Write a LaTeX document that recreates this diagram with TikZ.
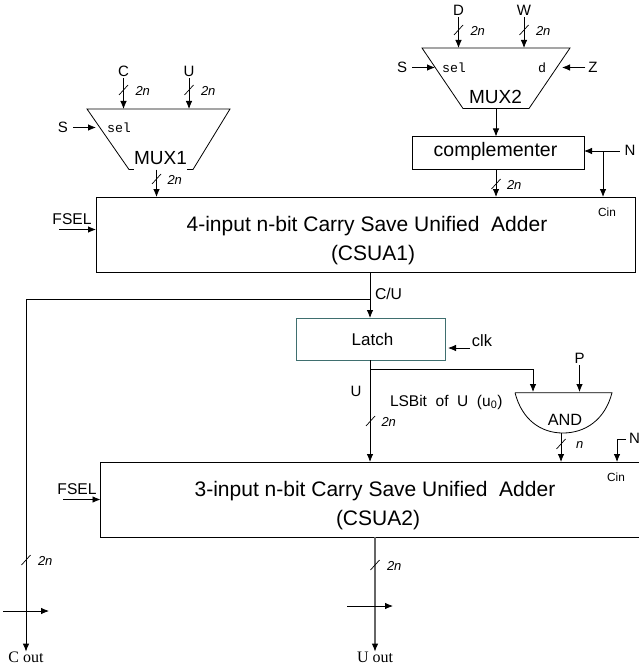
\documentclass[tikz,border=0pt]{standalone}
\usepackage{fontspec}
\setmainfont{Liberation Sans}
\setmonofont{Liberation Mono}
\newfontfamily\serifout{Liberation Serif}
\usetikzlibrary{arrows.meta,positioning,shapes.geometric,calc}
\definecolor{latchline}{HTML}{3F6F6F}
\newcommand{\fsz}[1]{\fontsize{#1}{#1}\selectfont}

\begin{document}
\begin{tikzpicture}[
      x=1pt, y=-1pt,
      every node/.style={font=\fsz{15}, inner sep=0pt, outer sep=0pt},
      arr/.style={-{Latex[length=8pt,width=6.5pt]}, line width=0.8pt},
      muxline/.style={line width=0.8pt, line join=miter},
      blockbox/.style={draw, line width=0.8pt, anchor=north west},
      title/.style={font=\fsz{21}},
      selname/.style={font=\ttfamily\fsz{13.3}},
      bus/.style={font=\itshape\fsz{13}},
      carry/.style={font=\fsz{11.8}}
  ]
    \useasboundingbox (0,0) rectangle (639,666);

    % ---- MUX1 ----
    \coordinate (mux1tl) at (87,109);
    \coordinate (mux1out) at (156.5,169.5);
    \draw[muxline] (mux1tl) -- (230,109) -- (193,169.5) -- (129,169.5) -- cycle;
    \node[fill=white, font=\fsz{19}, minimum width=53pt, minimum height=24pt] (mux1name) at (160.5,158) {MUX1};
    \node[selname] (mux1sel) at (119,128) {sel};
    \node (inC) at (123.5,71) {C};
    \node (inU) at (189,71) {U};
    \node (mux1S) at (63,127) {S};
    \draw[arr] (inC.south) ++(0,2) -- (inC |- mux1tl);
    \draw[arr] (inU.south) ++(0,2) -- (inU |- mux1tl);
    \coordinate (mux1edge) at (96,127.5);
    \draw[arr] (mux1S.east |- mux1edge) ++(5,0) -- (mux1edge);

    % ---- MUX2 ----
    \coordinate (mux2tl) at (422,48);
    \coordinate (mux2out) at (496,108.5);
    \draw[muxline] (mux2tl) -- (570,48) -- (529,108.5) -- (463,108.5) -- cycle;
    \node[font=\fsz{19}] (mux2name) at (495.5,97) {MUX2};
    \node[selname] (mux2sel) at (454,68) {sel};
    \node[selname] (mux2d) at (542,68) {d};
    \node (inD) at (458.5,10) {D};
    \node (inW) at (524,10) {W};
    \node (mux2S) at (402,67) {S};
    \node (inZ) at (593,67) {Z};
    \draw[arr] (inD.south) ++(0,2) -- (inD |- mux2tl);
    \draw[arr] (inW.south) ++(0,2) -- (inW |- mux2tl);
    \coordinate (mux2left) at (435,67.5);
    \coordinate (mux2right) at (562,67.5);
    \draw[arr] (mux2S.east |- mux2left) ++(5,0) -- (mux2left);
    \draw[arr] (inZ.west |- mux2right) ++(-3,0) -- (mux2right);

    % ---- Complementer ----
    \node[blockbox, minimum width=172pt, minimum height=32.5pt] (compl) at (412,136.5) {};
    \node[font=\fsz{19.5}] (complname) at (495.5,151.5) {complementer};
    \draw[arr] (mux2out) -- (mux2out |- compl.north);
    \node (inN) at (630,150) {N};
    \coordinate (ntap) at (603,151);
    \draw[arr] (inN.west |- ntap) ++(-5,0) -- (compl.east |- ntap);

    % ---- CSUA1 ----
    \node[blockbox, minimum width=539pt, minimum height=75pt] (csua1) at (96,197) {};
    \node[title] (csua1a) at (367,226) {4-input n-bit Carry Save Unified\ \ Adder};
    \node[title] (csua1b) at (373,255) {(CSUA1)};
    \node[carry] (cin1) at (607,212) {Cin};
    \node[font=\fsz{15.6}] (fsel1) at (72,219) {FSEL};
    \coordinate (fsel1in) at (59,229.5);
    \draw[arr] (fsel1in) -- (csua1.west |- fsel1in);
    \draw[arr] (mux1out) -- (mux1out |- csua1.north);
    \draw[arr] (mux2out |- compl.south) -- (mux2out |- csua1.north);
    \draw[arr] (ntap) -- (ntap |- csua1.north);

    % ---- Latch ----
    \node[blockbox, draw=latchline, minimum width=149pt, minimum height=42pt] (latch) at (296,318) {};
    \node[font=\fsz{17}] (latchname) at (372.5,339) {Latch};
    \node[font=\fsz{16.4}] (clk) at (482,341) {clk};
    \coordinate (clkin) at (470,348);
    \draw[arr] (clkin) -- ++(-22,0);
    \coordinate (sumtap) at (370,272);
    \coordinate (cuturn) at (370,299.5);
    \node[anchor=west, font=\fsz{15.7}] (culabel) at (375,294) {C/U};
    \draw[arr] (sumtap) -- (sumtap |- latch.north);

    % ---- AND gate ----
    \coordinate (andleft) at (515,392.7);
    \draw[line width=0.8pt] (andleft) -- (612,392.7)
        .. controls (605,420) and (585,433) .. (563,433)
        .. controls (541,433) and (522,420) .. (andleft);
    \node[font=\fsz{16.3}] (andname) at (565,420) {AND};
    \node (inP) at (579.5,358) {P};
    \coordinate (andtap) at (370,369);
    \coordinate (andA) at (533,392);
    \draw[arr] (andtap) -| (andA);
    \draw[arr] (inP.south) ++(0,2) -- (inP |- andA);
    \node[font=\fsz{15.5}, anchor=west] (lsb) at (390,402) {LSBit\ \ of\ \ U\ \ (u\textsubscript{0})};
    \node (ulabel) at (356,391) {U};

    % ---- CSUA2 ----
    \node[blockbox, minimum width=545pt, minimum height=75pt] (csua2) at (100.5,462) {};
    \node[title] (csua2a) at (375,491) {3-input n-bit Carry Save Unified\ \ Adder};
    \node[title] (csua2b) at (378,520) {(CSUA2)};
    \node[carry] (cin2) at (616,477) {Cin};
    \node[font=\fsz{15.6}] (fsel2) at (77,489) {FSEL};
    \coordinate (fsel2in) at (63,499.5);
    \draw[arr] (fsel2in) -- (csua2.west |- fsel2in);
    \draw[arr] (sumtap |- latch.south) -- (sumtap |- csua2.north);
    \coordinate (andout) at (561,433);
    \draw[arr] (andout) -- (andout |- csua2.north);
    \node[anchor=west] (inN2) at (629,438) {N};
    \coordinate (nturn) at (617,439);
    \draw[arr] (inN2.west |- nturn) ++(-3,0) -| (nturn |- csua2.north);

    % ---- Outputs ----
    \node[font=\serifout\fsz{16}] (cout) at (26,657) {C out};
    \node[font=\serifout\fsz{16}] (uout) at (375,657) {U out};
    \draw[arr] (cuturn) -| (cout.north);
    \coordinate (csua2out) at (375,537);
    \draw[arr, draw=black!60, line width=1.1pt, -{Latex[length=8pt,width=6.5pt,black]}] (csua2out) -- (uout.north);
    \coordinate (crossC) at (3,611);
    \coordinate (crossU) at (347,606);
    \draw[arr] (crossC) -- ++(46,0);
    \draw[arr] (crossU) -- ++(46,0);

    % ---- Bus widths ----
    \foreach \x/\y/\d/\w in {123.5/90/12/2n, 189/90/12/2n, 156.5/179/11/2n, 458.5/30/12/2n, 524/30/12/2n,
                             496/184/11/2n, 370.5/421/11/2n, 561/444/15/n, 26/560/12/2n, 375/565/12/2n} {
      \draw[line width=0.7pt] (\x-4.5,\y+5) -- (\x+4.5,\y-5);
      \node[bus, anchor=west] at (\x+\d,\y+1) {\w};
    }

  \end{tikzpicture}
\end{document}
